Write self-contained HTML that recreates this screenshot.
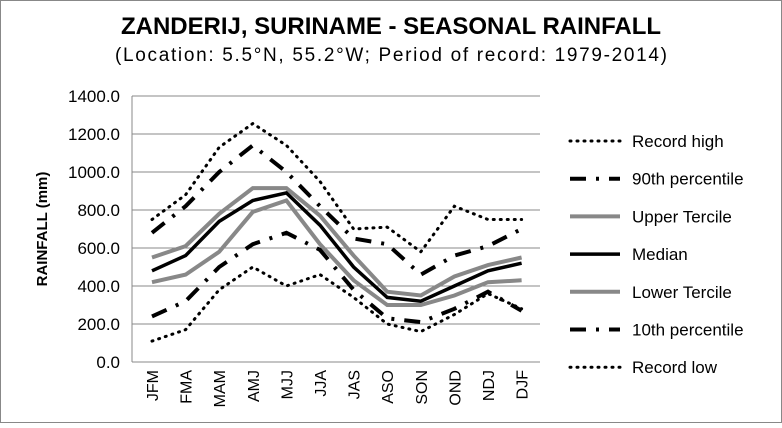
<!DOCTYPE html>
<html><head><meta charset="utf-8"><style>
body{margin:0;background:#fff;}
svg{font-family:"Liberation Sans",sans-serif;}
</style></head><body>
<svg width="782" height="423" viewBox="0 0 782 423">
<rect x="0.5" y="0.5" width="781" height="422" fill="#fff" stroke="#888"/>
<text x="391" y="34" text-anchor="middle" font-size="24" font-weight="bold" textLength="540">ZANDERIJ, SURINAME - SEASONAL RAINFALL</text>
<text x="391" y="61" text-anchor="middle" font-size="19" textLength="552">(Location: 5.5°N, 55.2°W; Period of record: 1979-2014)</text>
<text transform="translate(47,229) rotate(-90)" text-anchor="middle" font-size="15" font-weight="bold">RAINFALL (mm)</text>
<g id="grid"></g><g id="series"></g><g id="legend"></g>
</svg>
<script>
const categories=["JFM","FMA","MAM","AMJ","MJJ","JJA","JAS","ASO","SON","OND","NDJ","DJF"];
const yTicks=[0,200,400,600,800,1000,1200,1400];
const recordHigh=[750,880,1130,1255,1140,950,700,710,580,820,750,750];
const p90=[680,820,1000,1140,1000,820,650,620,460,560,610,700];
const upperTercile=[550,610,780,915,915,770,560,370,350,450,510,550];
const median=[480,560,740,850,890,720,500,340,320,400,480,520];
const lowerTercile=[420,460,580,790,850,620,430,300,300,350,420,430];
const p10=[240,320,500,620,680,590,380,230,210,280,370,270];
const recordLow=[110,170,380,500,400,460,340,200,160,250,360,280];
const NS="http://www.w3.org/2000/svg";
const x0=132,x1=540,y0=362,y1=96;
const xs=i=>152+i*33.6;
const ys=v=>y0-(v/1400)*(y0-y1);
function mk(t,a,p){const e=document.createElementNS(NS,t);for(const k in a)e.setAttribute(k,a[k]);p.appendChild(e);return e;}
const grid=document.getElementById('grid');
yTicks.forEach(v=>{
 const l=mk('line',{x1:x0,x2:x1,y1:ys(v),y2:ys(v),stroke:'#888','stroke-width':1},grid);
 
 
 const t=mk('text',{x:120,y:ys(v)+6,'text-anchor':'end','font-size':17},grid);
 t.textContent=v.toFixed(1);
 
 
});
const ax=mk('line',{x1:x0,x2:x0,y1:y1,y2:y0,stroke:'#888'},grid);


categories.forEach((c,i)=>{
 const t=mk('text',{transform:`translate(${xs(i)+6},370) rotate(-90)`,'text-anchor':'end','font-size':16},grid);
 t.textContent=c;
 
 
});
const series=[
 ["Record high",recordHigh,'#000',3,'1 6','round'],
 ["90th percentile",p90,'#000',4,'16 10 3 10','butt'],
 ["Upper Tercile",upperTercile,'#888',4,'',"butt"],
 ["Median",median,'#000',3.5,'',"butt"],
 ["Lower Tercile",lowerTercile,'#888',4,'',"butt"],
 ["10th percentile",p10,'#000',4,'16 10 3 10','butt'],
 ["Record low",recordLow,'#000',3,'1 6','round']
];
const sg=document.getElementById('series'),lg=document.getElementById('legend');
series.forEach((s,k)=>{
 const pts=s[1].map((v,i)=>xs(i)+','+ys(v)).join(' ');
 const p=mk('polyline',{points:pts,fill:'none',stroke:s[2],'stroke-width':s[3],'stroke-dasharray':s[4],'stroke-linecap':s[5]},sg);
 
 
 const y=141+k*37.7;
 const l=mk('line',{x1:570,x2:620,y1:y,y2:y,stroke:s[2],'stroke-width':s[3],'stroke-dasharray':s[4],'stroke-linecap':s[5]},lg);
 
 
 const t=mk('text',{x:632,y:y+6,'font-size':17},lg);
 t.textContent=s[0];
 
 
});
</script>
</body></html>
